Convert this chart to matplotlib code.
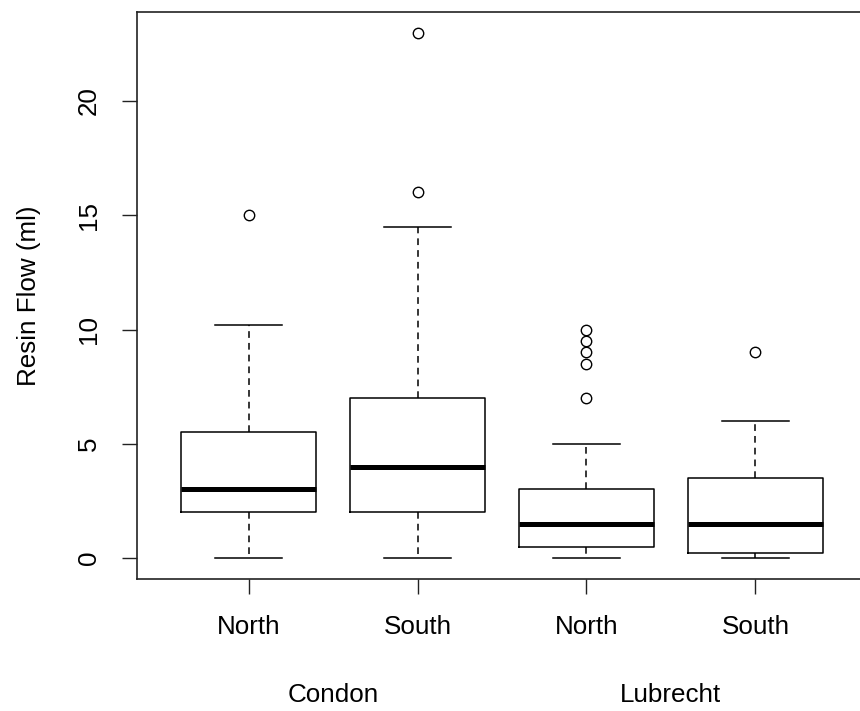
# Resin flow boxplots by site and aspect

import matplotlib
matplotlib.use("Agg")
import matplotlib.pyplot as plt
import matplotlib.transforms as mtransforms

plt.rcParams['font.family'] = ['Liberation Sans', 'DejaVu Sans']

aspects = ["North", "South", "North", "South"]
sites = ["Condon", "Lubrecht"]

whislo = [0, 0, 0, 0]
q1 = [2, 2, 0.5, 0.2]
medians = [3, 4, 1.5, 1.5]
q3 = [5.5, 7, 3, 3.5]
whishi = [10.2, 14.5, 5, 6]
fliers = [[15], [16, 23], [7, 8.5, 9, 9.5, 10], [9]]

stats = []
for i in range(len(aspects)):
    stats.append({"whislo": whislo[i], "q1": q1[i], "med": medians[i],
                  "q3": q3[i], "whishi": whishi[i], "fliers": fliers[i]})

fs = 18.7

fig = plt.figure(figsize=(8.6, 7.11), dpi=100)
ax = fig.add_axes([137 / 860, 132 / 711, 730 / 860, 567.5 / 711])

ax.bxp(stats, positions=[1, 2, 3, 4], widths=0.8, capwidths=0.4,
       boxprops=dict(color="black", linewidth=1.1),
       medianprops=dict(color="black", linewidth=3.6, solid_capstyle="butt"),
       whiskerprops=dict(color="black", linewidth=1.1, linestyle=(0, (4.4, 3.3))),
       capprops=dict(color="black", linewidth=1.1),
       flierprops=dict(marker="o", markerfacecolor="none", markeredgecolor="black",
                       markersize=7.5, markeredgewidth=1.0))

ax.set_xlim(0.34, 4.66)
ax.set_ylim(-0.92, 23.92)

for side in ["top", "right", "left", "bottom"]:
    ax.spines[side].set_linewidth(1.2)
    ax.spines[side].set_color("#222222")

ax.set_xticks([1, 2, 3, 4])
ax.set_xticklabels(aspects)
ax.set_yticks([0, 5, 10, 15, 20])
ax.tick_params(axis="both", length=11, width=1.0, color="#222222",
               labelsize=fs, pad=15)
ax.tick_params(axis="y", labelrotation=90)
for lbl in ax.get_yticklabels():
    lbl.set_va("center")

ax.set_ylabel("Resin Flow (ml)", fontsize=fs, labelpad=26)

# site names under each pair of boxes
trans = mtransforms.blended_transform_factory(ax.transData, fig.transFigure)
ax.text(1.5, 9 / 711, sites[0], transform=trans, ha="center", va="baseline", fontsize=fs)
ax.text(3.5, 9 / 711, sites[1], transform=trans, ha="center", va="baseline", fontsize=fs)

fig.savefig("out.png", dpi=100)
